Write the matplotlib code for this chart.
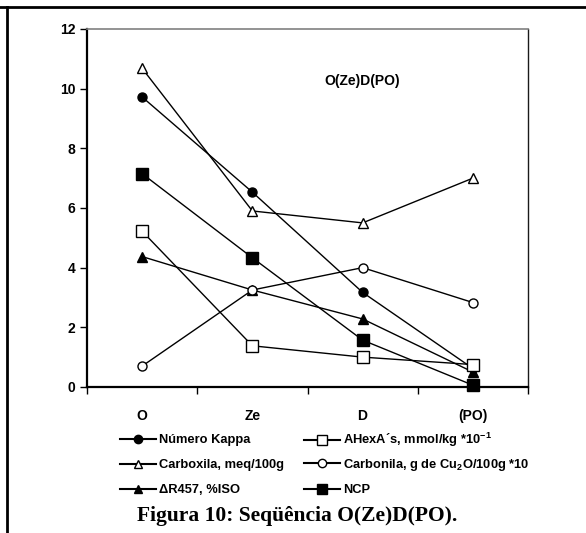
import matplotlib
matplotlib.use('Agg')
import matplotlib.pyplot as plt
from matplotlib.lines import Line2D

plt.rcParams['font.family'] = ['Liberation Sans', 'DejaVu Sans']
plt.rcParams['font.weight'] = 'bold'
plt.rcParams['mathtext.default'] = 'regular'

etapas = ['O', 'Ze', 'D', '(PO)']
kappa = [9.72, 6.53, 3.17, 0.62]
ahexa = [5.22, 1.38, 1.0, 0.75]
carboxila = [10.68, 5.9, 5.5, 7.0]
carbonila = [0.7, 3.25, 4.0, 2.83]
dr457 = [4.37, 3.25, 2.28, 0.5]
ncp = [7.15, 4.33, 1.57, 0.06]

yticks = [0, 2, 4, 6, 8, 10, 12]

fig = plt.figure(figsize=(5.86, 5.33), dpi=100)
ax = fig.add_axes([0.1485, 0.274, 0.7525, 0.6716])

x = [i + 0.5 for i in range(len(etapas))]
# (valores, marcador, preenchimento, rótulo, tamanho no gráfico, tamanho na legenda)
series = [
    (kappa, 'o', 'black', 'Número Kappa', 6.5, 6),
    (carboxila, '^', 'white', 'Carboxila, meq/100g', 7.5, 6),
    (dr457, '^', 'black', 'ΔR457, %ISO', 7.5, 6),
    (ahexa, 's', 'white', 'AHexA´s, mmol/kg *10$^{-1}$', 8.5, 6.5),
    (carbonila, 'o', 'white', 'Carbonila, g de Cu$_2$O/100g *10', 6.5, 6),
    (ncp, 's', 'black', 'NCP', 8.5, 6.5),
]
handles = []
for vals, m, fc, lab, ms, ms_leg in series:
    ax.plot(x, vals, color='black', lw=1.0, marker=m, markerfacecolor=fc,
            markeredgecolor='black', markersize=ms, clip_on=False)
    handles.append(Line2D([], [], color='black', lw=1.5, marker=m,
                          markerfacecolor=fc, markeredgecolor='black',
                          markersize=ms_leg, label=lab))

ax.set_xlim(0, 4)
ax.set_ylim(0, 12)
ax.set_yticks(yticks)
ax.set_xticks([0, 1, 2, 3, 4])
ax.set_xticklabels([])
ax.set_xticks(x, minor=True)
ax.set_xticklabels(etapas, minor=True, fontsize=10)
ax.tick_params(axis='x', which='minor', length=0, pad=16)
ax.tick_params(axis='x', which='major', direction='out', length=5, width=1)
ax.tick_params(axis='y', direction='out', length=5, width=1, labelsize=10)
for s in ['left', 'bottom']:
    ax.spines[s].set_linewidth(1.6)
ax.spines['top'].set_color('#808080')
ax.spines['top'].set_linewidth(1.2)
ax.spines['right'].set_color('#1a1a1a')
ax.spines['right'].set_linewidth(1.0)

ax.text(0.625, 0.855, 'O(Ze)D(PO)', transform=ax.transAxes, fontsize=10,
        ha='center', va='center')

# legenda: uma linha por série, 2 colunas x 3 linhas
col_x = [120 / 586, 304 / 586]
row_y = [1 - 440 / 533, 1 - 465 / 533, 1 - 490 / 533]
for i, h in enumerate(handles):
    leg = fig.legend(handles=[h], loc='center left',
                     bbox_to_anchor=(col_x[i // 3], row_y[i % 3]),
                     frameon=False, fontsize=9.3, handlelength=2.8,
                     handletextpad=0.2, borderpad=0, borderaxespad=0)

fig.text(0.507, 0.032, 'Figura 10: Seqüência O(Ze)D(PO).',
         family='Liberation Serif', fontsize=15.5, weight='bold',
         ha='center', va='center')

# moldura da página
fig.add_artist(Line2D([0, 1], [1 - 7 / 533, 1 - 7 / 533], color='black',
                      lw=2, transform=fig.transFigure))
fig.add_artist(Line2D([7 / 586, 7 / 586], [0, 1 - 7 / 533], color='black',
                      lw=2, transform=fig.transFigure))

fig.savefig('out.png', dpi=100)
